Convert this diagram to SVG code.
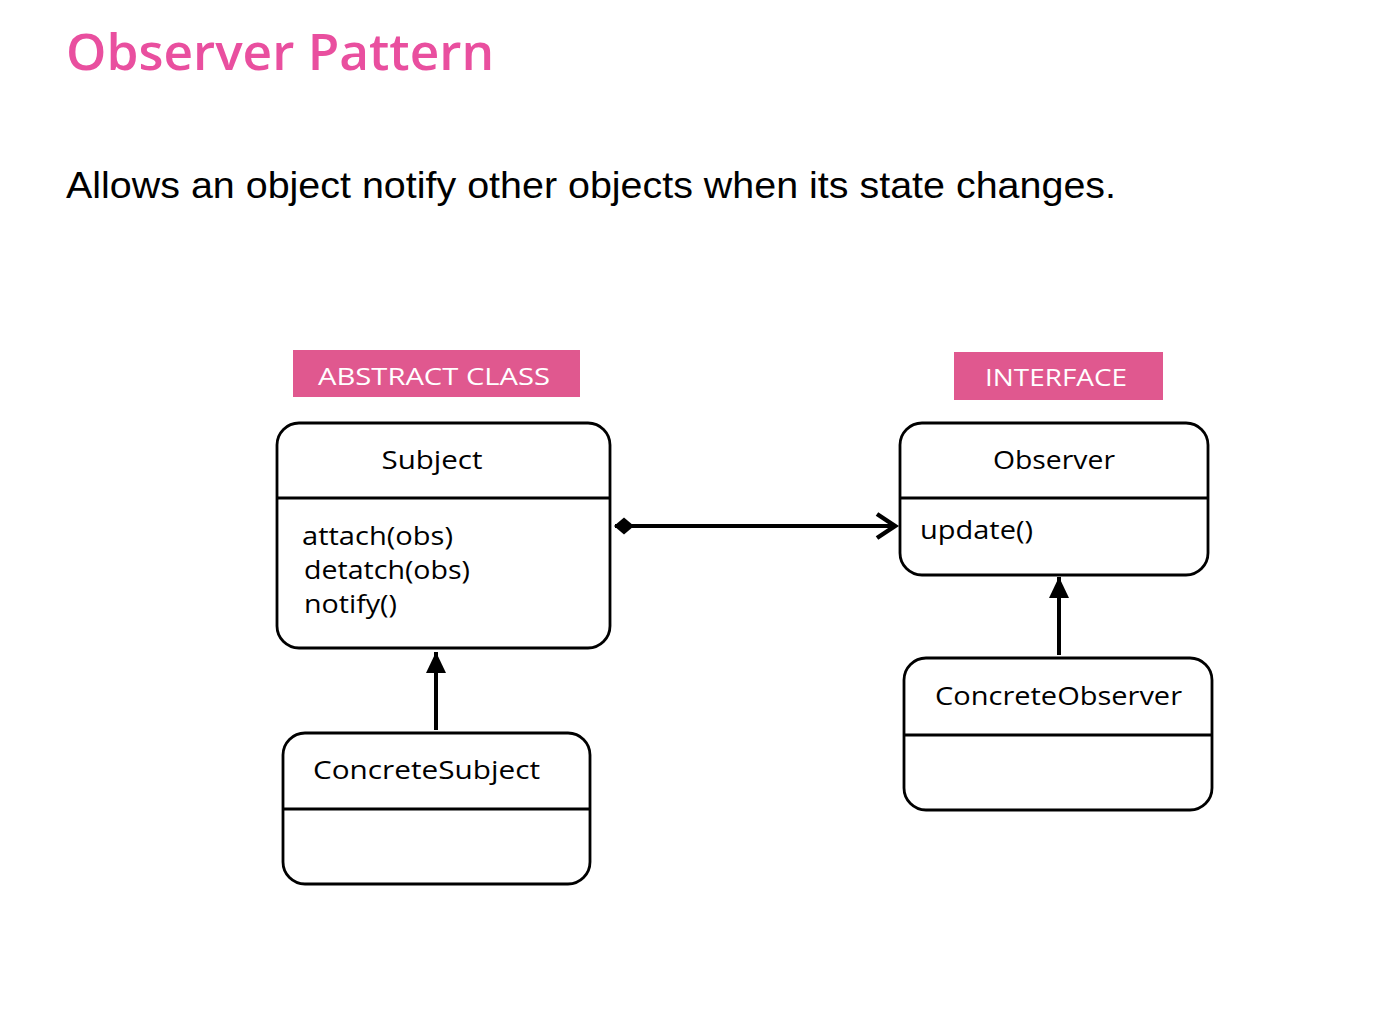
<svg xmlns="http://www.w3.org/2000/svg" width="1394" height="1010" viewBox="0 0 1394 1010">
<defs>
<style>
.box{fill:#fff;stroke:#000;stroke-width:2.8}
.div{stroke:#000;stroke-width:2.8}
.t{font-family:"Open Sans","Noto Sans",sans-serif;font-size:25px;font-weight:500;fill:#000}
.badge{fill:#e0588f}
.bt{font-family:"Open Sans","Noto Sans",sans-serif;font-size:24px;font-weight:500;fill:#fff}
.conn{stroke:#000;stroke-width:4;fill:none}
</style>
<marker id="diamond" markerWidth="24" markerHeight="20" refX="1" refY="10" orient="auto" markerUnits="userSpaceOnUse">
<path d="M0,10 L10,1.5 L20,10 L10,18.5 Z" fill="#000"/>
</marker>
<marker id="open" markerWidth="28" markerHeight="30" refX="23" refY="15" orient="auto" markerUnits="userSpaceOnUse">
<path d="M5,3 L23,15 L5,27" fill="none" stroke="#000" stroke-width="4.5"/>
</marker>
<marker id="tri" markerWidth="24" markerHeight="24" refX="21" refY="12" orient="auto" markerUnits="userSpaceOnUse">
<path d="M0,2 L21,12 L0,22 Z" fill="#000"/>
</marker>
</defs>
<rect width="1394" height="1010" fill="#fff"/>
<text x="66" y="70" font-family="Open Sans, Noto Sans, sans-serif" font-size="50" font-weight="600" fill="#e94f9f" textLength="428" lengthAdjust="spacingAndGlyphs">Observer Pattern</text>
<text x="66" y="198" font-family="Liberation Sans, Arial, sans-serif" font-size="37" fill="#000" textLength="1050" lengthAdjust="spacingAndGlyphs">Allows an object notify other objects when its state changes.</text>

<g id="badge-abstract">
<rect class="badge" x="293" y="350" width="287" height="47"/>
<text class="bt" x="318" y="385" textLength="232" lengthAdjust="spacingAndGlyphs">ABSTRACT CLASS</text>
</g>
<g id="badge-interface">
<rect class="badge" x="954" y="352" width="209" height="48"/>
<text class="bt" x="985" y="386" textLength="142" lengthAdjust="spacingAndGlyphs">INTERFACE</text>
</g>

<g id="subject">
<rect class="box" x="277" y="423" width="333" height="225" rx="22"/>
<line class="div" x1="277" y1="498" x2="610" y2="498"/>
<text class="t" x="432" y="469" text-anchor="middle" textLength="101" lengthAdjust="spacingAndGlyphs">Subject</text>
<text class="t" x="302" y="545" textLength="151" lengthAdjust="spacingAndGlyphs">attach(obs)</text>
<text class="t" x="304" y="579" textLength="166" lengthAdjust="spacingAndGlyphs">detatch(obs)</text>
<text class="t" x="304" y="613" textLength="93" lengthAdjust="spacingAndGlyphs">notify()</text>
</g>

<g id="observer">
<rect class="box" x="900" y="423" width="308" height="152" rx="22"/>
<line class="div" x1="900" y1="498" x2="1208" y2="498"/>
<text class="t" x="1054" y="469" text-anchor="middle" textLength="122" lengthAdjust="spacingAndGlyphs">Observer</text>
<text class="t" x="920" y="539" textLength="113" lengthAdjust="spacingAndGlyphs">update()</text>
</g>

<g id="concrete-subject">
<rect class="box" x="283" y="733" width="307" height="151" rx="22"/>
<line class="div" x1="283" y1="809" x2="590" y2="809"/>
<text class="t" x="313" y="779" textLength="227" lengthAdjust="spacingAndGlyphs">ConcreteSubject</text>
</g>

<g id="concrete-observer">
<rect class="box" x="904" y="658" width="308" height="152" rx="22"/>
<line class="div" x1="904" y1="735" x2="1212" y2="735"/>
<text class="t" x="935" y="705" textLength="247" lengthAdjust="spacingAndGlyphs">ConcreteObserver</text>
</g>

<g id="connectors">
<line class="conn" x1="615" y1="526" x2="895" y2="526" marker-start="url(#diamond)" marker-end="url(#open)"/>
<line class="conn" x1="436" y1="730" x2="436" y2="652" marker-end="url(#tri)"/>
<line class="conn" x1="1059" y1="655" x2="1059" y2="577" marker-end="url(#tri)"/>
</g>
</svg>
